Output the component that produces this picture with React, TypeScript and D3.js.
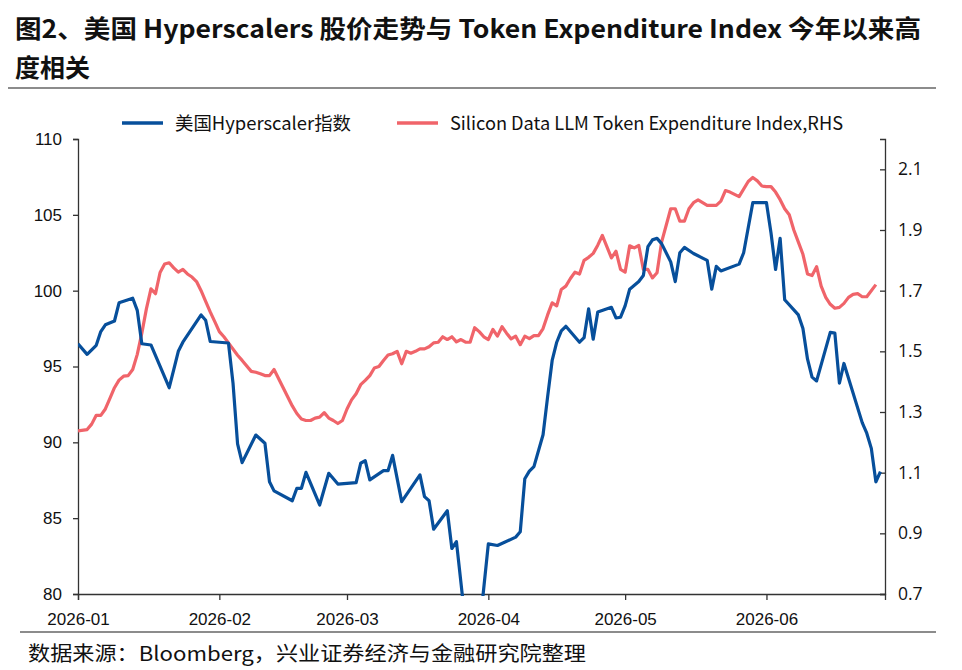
import React, { useRef, useEffect } from "react";
import * as d3 from "d3";

// 美国Hyperscaler指数 (left axis)
const hyperDates = [
  "2026-01-01", "2026-01-03", "2026-01-05", "2026-01-06", "2026-01-07", "2026-01-09", "2026-01-10",
  "2026-01-13", "2026-01-14", "2026-01-15", "2026-01-17", "2026-01-21", "2026-01-22", "2026-01-23",
  "2026-01-24", "2026-01-28", "2026-01-29", "2026-01-30", "2026-02-03", "2026-02-04", "2026-02-05",
  "2026-02-06", "2026-02-09", "2026-02-11", "2026-02-12", "2026-02-13", "2026-02-17", "2026-02-18",
  "2026-02-19", "2026-02-20", "2026-02-23", "2026-02-25", "2026-02-27", "2026-03-03", "2026-03-04",
  "2026-03-05", "2026-03-06", "2026-03-09", "2026-03-10", "2026-03-11", "2026-03-13", "2026-03-17",
  "2026-03-18", "2026-03-19", "2026-03-20", "2026-03-23", "2026-03-24", "2026-03-25", "2026-03-27",
  "2026-03-30", "2026-04-01", "2026-04-03", "2026-04-07", "2026-04-08", "2026-04-09", "2026-04-10",
  "2026-04-11", "2026-04-13", "2026-04-14", "2026-04-15", "2026-04-16", "2026-04-17", "2026-04-18",
  "2026-04-21", "2026-04-22", "2026-04-23", "2026-04-24", "2026-04-25", "2026-04-28", "2026-04-29",
  "2026-04-30", "2026-05-01", "2026-05-02", "2026-05-04", "2026-05-05", "2026-05-06", "2026-05-07",
  "2026-05-08", "2026-05-09", "2026-05-11", "2026-05-12", "2026-05-13", "2026-05-14", "2026-05-16",
  "2026-05-18", "2026-05-19", "2026-05-20", "2026-05-21", "2026-05-22", "2026-05-26", "2026-05-27",
  "2026-05-29", "2026-06-01", "2026-06-02", "2026-06-03", "2026-06-04", "2026-06-05", "2026-06-08",
  "2026-06-09", "2026-06-10", "2026-06-11", "2026-06-12", "2026-06-15", "2026-06-16", "2026-06-17",
  "2026-06-18", "2026-06-22", "2026-06-23", "2026-06-24", "2026-06-25", "2026-06-26",
];
const hyperValues = [
  96.5, 95.8, 96.4, 97.3, 97.75, 98.0, 99.2,
  99.5, 98.7, 96.5, 96.42, 93.6, 94.8, 96.0,
  96.6, 98.4, 98.05, 96.65, 96.55, 93.9, 89.9,
  88.66, 90.48, 89.94, 87.4, 86.8, 86.15, 86.97,
  86.97, 88.02, 85.87, 87.96, 87.25, 87.34, 88.62,
  88.79, 87.52, 88.13, 88.13, 89.14, 86.09, 87.85,
  86.42, 86.15, 84.27, 85.49, 83.0, 83.45, 78.0,
  77.5, 83.3, 83.2, 83.75, 84.1, 87.6, 88.1,
  88.4, 90.5, 93.0, 95.4, 96.6, 97.35, 97.65,
  96.6, 96.9, 98.8, 96.8, 98.6, 98.9, 98.2,
  98.25, 99.0, 100.1, 100.6, 101.0, 102.9, 103.35,
  103.45, 103.1, 101.9, 100.6, 102.5, 102.85, 102.45,
  102.15, 102.0, 100.1, 101.6, 101.3, 101.75, 102.5,
  105.8, 105.8, 103.8, 101.4, 103.45, 99.4, 98.4,
  97.5, 95.5, 94.3, 94.05, 97.25, 97.2, 93.9,
  95.2, 91.3, 90.6, 89.6, 87.4, 88.07,
];

// Silicon Data LLM Token Expenditure Index (right axis)
const tokenDates = [
  "2026-01-01", "2026-01-03", "2026-01-04", "2026-01-05", "2026-01-06", "2026-01-07", "2026-01-08",
  "2026-01-09", "2026-01-10", "2026-01-11", "2026-01-12", "2026-01-13", "2026-01-14", "2026-01-15",
  "2026-01-16", "2026-01-17", "2026-01-18", "2026-01-19", "2026-01-20", "2026-01-21", "2026-01-22",
  "2026-01-23", "2026-01-24", "2026-01-25", "2026-01-26", "2026-01-27", "2026-01-28", "2026-01-29",
  "2026-01-30", "2026-01-31", "2026-02-01", "2026-02-02", "2026-02-03", "2026-02-05", "2026-02-06",
  "2026-02-08", "2026-02-09", "2026-02-10", "2026-02-11", "2026-02-12", "2026-02-13", "2026-02-15",
  "2026-02-17", "2026-02-18", "2026-02-19", "2026-02-20", "2026-02-21", "2026-02-22", "2026-02-23",
  "2026-02-24", "2026-02-25", "2026-02-26", "2026-02-27", "2026-02-28", "2026-03-01", "2026-03-02",
  "2026-03-03", "2026-03-04", "2026-03-05", "2026-03-06", "2026-03-07", "2026-03-08", "2026-03-09",
  "2026-03-10", "2026-03-11", "2026-03-12", "2026-03-13", "2026-03-14", "2026-03-15", "2026-03-16",
  "2026-03-17", "2026-03-18", "2026-03-19", "2026-03-20", "2026-03-21", "2026-03-22", "2026-03-23",
  "2026-03-24", "2026-03-25", "2026-03-26", "2026-03-27", "2026-03-28", "2026-03-29", "2026-03-30",
  "2026-03-31", "2026-04-01", "2026-04-02", "2026-04-03", "2026-04-04", "2026-04-05", "2026-04-06",
  "2026-04-07", "2026-04-08", "2026-04-09", "2026-04-10", "2026-04-11", "2026-04-12", "2026-04-13",
  "2026-04-14", "2026-04-15", "2026-04-16", "2026-04-17", "2026-04-18", "2026-04-19", "2026-04-20",
  "2026-04-21", "2026-04-22", "2026-04-23", "2026-04-24", "2026-04-25", "2026-04-26", "2026-04-28",
  "2026-04-29", "2026-04-30", "2026-05-01", "2026-05-02", "2026-05-03", "2026-05-04", "2026-05-05",
  "2026-05-06", "2026-05-07", "2026-05-08", "2026-05-09", "2026-05-11", "2026-05-12", "2026-05-13",
  "2026-05-14", "2026-05-15", "2026-05-16", "2026-05-17", "2026-05-19", "2026-05-21", "2026-05-22",
  "2026-05-23", "2026-05-24", "2026-05-26", "2026-05-28", "2026-05-29", "2026-05-30", "2026-05-31",
  "2026-06-01", "2026-06-02", "2026-06-03", "2026-06-04", "2026-06-05", "2026-06-06", "2026-06-07",
  "2026-06-08", "2026-06-09", "2026-06-10", "2026-06-11", "2026-06-12", "2026-06-13", "2026-06-14",
  "2026-06-15", "2026-06-16", "2026-06-17", "2026-06-18", "2026-06-19", "2026-06-20", "2026-06-21",
  "2026-06-22", "2026-06-23", "2026-06-25",
];
const tokenValues = [
  1.238, 1.242, 1.26, 1.289, 1.289, 1.31, 1.345,
  1.38, 1.405, 1.418, 1.42, 1.44, 1.49, 1.56,
  1.64, 1.706, 1.69, 1.76, 1.788, 1.792, 1.775,
  1.761, 1.77, 1.755, 1.745, 1.73, 1.7, 1.665,
  1.63, 1.598, 1.565, 1.548, 1.528, 1.487, 1.47,
  1.434, 1.431, 1.426, 1.42, 1.42, 1.44, 1.38,
  1.32, 1.295, 1.277, 1.272, 1.272, 1.28, 1.283,
  1.298, 1.28, 1.272, 1.262, 1.272, 1.31, 1.34,
  1.36, 1.39, 1.404, 1.42, 1.445, 1.45, 1.47,
  1.488, 1.492, 1.5, 1.459, 1.5, 1.494, 1.5,
  1.508, 1.508, 1.515, 1.528, 1.53, 1.548, 1.539,
  1.548, 1.531, 1.539, 1.53, 1.53, 1.578, 1.565,
  1.548, 1.539, 1.572, 1.55, 1.581, 1.56, 1.541,
  1.55, 1.522, 1.55, 1.542, 1.552, 1.552, 1.575,
  1.62, 1.66, 1.65, 1.704, 1.715, 1.74, 1.761,
  1.755, 1.8, 1.81, 1.823, 1.85, 1.882, 1.808,
  1.83, 1.77, 1.761, 1.848, 1.841, 1.849, 1.77,
  1.77, 1.742, 1.759, 1.86, 1.97, 1.97, 1.929,
  1.929, 1.97, 1.99, 1.999, 1.981, 1.981, 1.995,
  2.03, 2.025, 2.01, 2.06, 2.073, 2.062, 2.045,
  2.043, 2.043, 2.025, 2.0, 1.97, 1.95, 1.9,
  1.86, 1.82, 1.755, 1.75, 1.779, 1.715, 1.678,
  1.655, 1.642, 1.645, 1.658, 1.678, 1.688, 1.69,
  1.68, 1.68, 1.72,
];

const leftTicks = [80, 85, 90, 95, 100, 105, 110];
const rightTicks = [0.7, 0.9, 1.1, 1.3, 1.5, 1.7, 1.9, 2.1];
const monthTicks = ["2026-01-01", "2026-02-01", "2026-03-01", "2026-04-01", "2026-05-01", "2026-06-01"];

const titleLine1 = "图2、美国 Hyperscalers 股价走势与 Token Expenditure Index 今年以来高";
const titleLine2 = "度相关";
const legendHyper = "美国Hyperscaler指数";
const legendToken = "Silicon Data LLM Token Expenditure Index,RHS";
const sourceNote = "数据来源：Bloomberg，兴业证券经济与金融研究院整理";

const BLUE = "#074f9b";
const RED = "#f0646a";
const CJK = "'Noto Sans CJK SC', 'Liberation Sans', sans-serif";

const App = () => {
  const svgRef = useRef<SVGSVGElement>(null);

  useEffect(() => {
    const svg = d3.select(svgRef.current);
    svg.selectAll("*").remove();

    const width = 962;
    const height = 670;
    const plot = { left: 78, right: 885, top: 139, bottom: 594 };

    svg.append("rect").attr("width", width).attr("height", height).attr("fill", "#fff");

    const parse = d3.timeParse("%Y-%m-%d");
    const x = d3.scaleTime()
      .domain([parse("2026-01-01")!, parse("2026-06-27")!])
      .range([plot.left, plot.right]);
    const yL = d3.scaleLinear().domain([80, 110]).range([plot.bottom, plot.top]);
    const yR = d3.scaleLinear().domain([0.7, 2.2]).range([plot.bottom, plot.top]);

    // title
    const title = svg.append("g")
      .style("font-family", CJK)
      .style("font-weight", "bold")
      .style("font-size", "25px")
      .attr("fill", "#111");
    title.append("text").attr("x", 15).attr("y", 38)
      .attr("textLength", 906).attr("lengthAdjust", "spacingAndGlyphs")
      .text(titleLine1);
    title.append("text").attr("x", 15).attr("y", 77).text(titleLine2);

    svg.append("line")
      .attr("x1", 8).attr("x2", 936).attr("y1", 88).attr("y2", 88)
      .attr("stroke", "#8c8c8c").attr("stroke-width", 2);

    // legend
    const legend = svg.append("g").style("font-family", CJK).style("font-size", "18px");
    const legendItems = [
      { label: legendHyper, color: BLUE, x: 122, len: 176 },
      { label: legendToken, color: RED, x: 397, len: 393 },
    ];
    legendItems.forEach(item => {
      legend.append("line")
        .attr("x1", item.x).attr("x2", item.x + 41).attr("y1", 123).attr("y2", 123)
        .attr("stroke", item.color).attr("stroke-width", 3.5);
      legend.append("text")
        .attr("x", item.x + 53).attr("y", 129.5)
        .attr("fill", "#111")
        .attr("textLength", item.len).attr("lengthAdjust", "spacingAndGlyphs")
        .text(item.label);
    });

    // axes
    const axisColor = "#333";
    const tickFont = "'Liberation Sans', Arial, sans-serif";

    const leftAxis = svg.append("g")
      .attr("transform", `translate(${plot.left},0)`)
      .call(d3.axisLeft(yL).tickValues(leftTicks).tickSize(5).tickPadding(11));
    const rightAxis = svg.append("g")
      .attr("transform", `translate(${plot.right},0)`)
      .call(d3.axisRight(yR).tickValues(rightTicks).tickSize(-5).tickPadding(13).tickFormat(d3.format(".1f")));
    const bottomAxis = svg.append("g")
      .attr("transform", `translate(0,${plot.bottom})`)
      .call(d3.axisBottom(x)
        .tickValues(monthTicks.map(d => parse(d)!))
        .tickSize(6).tickPadding(10)
        .tickFormat(d3.timeFormat("%Y-%m") as any));

    [leftAxis, rightAxis, bottomAxis].forEach(ax => {
      ax.select(".domain").attr("stroke", axisColor).attr("stroke-width", 1.3);
      ax.selectAll(".tick line").attr("stroke", axisColor).attr("stroke-width", 1.3);
      ax.selectAll("text")
        .attr("fill", "#111")
        .style("font-family", tickFont)
        .style("font-size", "17px");
    });
    rightAxis.selectAll("text").style("font-family", "'Open Sans', sans-serif").style("font-size", "17.5px");
    bottomAxis.selectAll("text").attr("dy", "0.9em");

    // series
    svg.append("clipPath").attr("id", "plot-clip")
      .append("rect")
      .attr("x", plot.left).attr("y", plot.top - 4)
      .attr("width", plot.right - plot.left).attr("height", plot.bottom - plot.top + 6);

    const hyper = hyperDates.map((d, i) => ({ date: parse(d)!, value: hyperValues[i] }));
    const token = tokenDates.map((d, i) => ({ date: parse(d)!, value: tokenValues[i] }));

    const lineL = d3.line<{ date: Date; value: number }>().x(d => x(d.date)).y(d => yL(d.value));
    const lineR = d3.line<{ date: Date; value: number }>().x(d => x(d.date)).y(d => yR(d.value));

    const series = svg.append("g").attr("clip-path", "url(#plot-clip)");
    series.append("path").datum(token)
      .attr("d", lineR).attr("fill", "none")
      .attr("stroke", RED).attr("stroke-width", 3.2).attr("stroke-linejoin", "round");
    series.append("path").datum(hyper)
      .attr("d", lineL).attr("fill", "none")
      .attr("stroke", BLUE).attr("stroke-width", 3.2).attr("stroke-linejoin", "round");

    // footer
    svg.append("line")
      .attr("x1", 20).attr("x2", 936).attr("y1", 632).attr("y2", 632)
      .attr("stroke", "#8c8c8c").attr("stroke-width", 2);
    svg.append("text")
      .attr("x", 28).attr("y", 661)
      .style("font-family", CJK).style("font-size", "20px")
      .attr("fill", "#111")
      .attr("textLength", 558).attr("lengthAdjust", "spacingAndGlyphs")
      .text(sourceNote);
  }, []);

  return (
    <div style={{ position: "absolute", left: 0, top: 0 }}>
      <svg ref={svgRef} width={962} height={670} />
    </div>
  );
};

export default App;
